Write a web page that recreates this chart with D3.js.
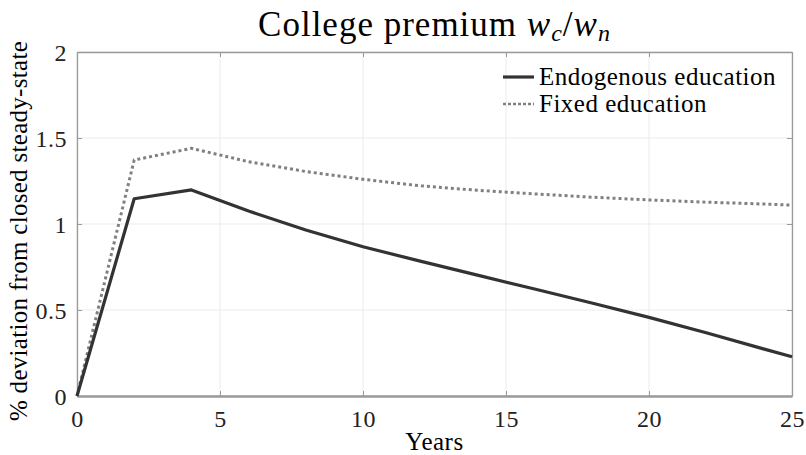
<!DOCTYPE html>
<html>
<head>
<meta charset="utf-8">
<script src="https://cdn.jsdelivr.net/npm/d3@7"></script>
<style>
  body { margin: 0; background: #fff; }
</style>
</head>
<body>
<div id="chart"></div>
<script>
// data
const years = [0, 2, 4, 6, 8, 10, 12, 14, 16, 18, 20, 22, 24, 25];
const endogenous = [0, 1.147, 1.198, 1.075, 0.965, 0.868, 0.784, 0.703, 0.622, 0.541, 0.457, 0.368, 0.274, 0.228];
const fixedEdu = [0, 1.372, 1.44, 1.362, 1.305, 1.26, 1.222, 1.196, 1.175, 1.156, 1.14, 1.127, 1.116, 1.11];
const xTicks = [0, 5, 10, 15, 20, 25];
const yTicks = [0, 0.5, 1, 1.5, 2];
const seriesNames = ["Endogenous education", "Fixed education"];

const serif = "'Liberation Serif', 'DejaVu Serif', serif";
const width = 806, height = 455;
const margin = { top: 52, right: 14, bottom: 59, left: 77 };
const w = width - margin.left - margin.right;
const h = height - margin.top - margin.bottom;

const svg = d3.select("#chart")
    .append("svg")
    .attr("width", width)
    .attr("height", height)
    .attr("font-family", serif);

const g = svg.append("g")
    .attr("transform", `translate(${margin.left},${margin.top})`);

const x = d3.scaleLinear().domain([0, 25]).range([0, w]);
const y = d3.scaleLinear().domain([0, 2]).range([h, 0]);

// grid
g.append("g").selectAll("line")
    .data(xTicks)
    .enter().append("line")
    .attr("x1", d => x(d)).attr("x2", d => x(d))
    .attr("y1", 0).attr("y2", h)
    .attr("stroke", "#ebebeb").attr("stroke-width", 1);
g.append("g").selectAll("line")
    .data(yTicks)
    .enter().append("line")
    .attr("y1", d => y(d)).attr("y2", d => y(d))
    .attr("x1", 0).attr("x2", w)
    .attr("stroke", "#ebebeb").attr("stroke-width", 1);

// axes, ticks pointing in
const tickCol = "#9a9a9a";
const xAxis = g.append("g")
    .attr("transform", `translate(0,${h})`)
    .call(d3.axisBottom(x).tickValues(xTicks).tickSizeInner(-5).tickSizeOuter(0).tickPadding(9).tickFormat(d3.format("d")));
const xTop = g.append("g")
    .call(d3.axisTop(x).tickValues(xTicks).tickSizeInner(-5).tickSizeOuter(0).tickFormat(""));
const yAxis = g.append("g")
    .call(d3.axisLeft(y).tickValues(yTicks).tickSizeInner(-5).tickSizeOuter(0).tickPadding(10).tickFormat(d => d));
const yRight = g.append("g")
    .attr("transform", `translate(${w},0)`)
    .call(d3.axisRight(y).tickValues(yTicks).tickSizeInner(-5).tickSizeOuter(0).tickFormat(""));

[xAxis, xTop, yAxis, yRight].forEach(a => {
    a.attr("font-family", serif).attr("font-size", 24);
    a.select(".domain").attr("stroke", tickCol).attr("stroke-width", 1.3);
    a.selectAll(".tick line").attr("stroke", tickCol);
    a.selectAll("text").attr("fill", "#222").attr("letter-spacing", 0.5);
});
xAxis.select(".domain").attr("stroke-width", 2.5);
xAxis.selectAll("text").attr("dy", "0.9em");
yAxis.selectAll("text").attr("dy", "0.36em");

// lines
const line = d3.line()
    .x((d, i) => x(years[i]))
    .y(d => y(d));

g.append("path")
    .datum(fixedEdu)
    .attr("d", line)
    .attr("fill", "none")
    .attr("stroke", "#808080")
    .attr("stroke-width", 3)
    .attr("stroke-dasharray", "3,3");

g.append("path")
    .datum(endogenous)
    .attr("d", line)
    .attr("fill", "none")
    .attr("stroke", "#333333")
    .attr("stroke-width", 3.2)
    .attr("stroke-linejoin", "round");

// legend
const legend = svg.append("g").attr("transform", "translate(503,77)");
const legStyles = [
    { stroke: "#333333", dash: null, sw: 3.2 },
    { stroke: "#808080", dash: "3,2", sw: 2.5 }
];
seriesNames.forEach((name, i) => {
    const row = legend.append("g").attr("transform", `translate(0,${i * 27})`);
    row.append("line")
        .attr("x1", 0).attr("x2", 31).attr("y1", 0).attr("y2", 0)
        .attr("stroke", legStyles[i].stroke)
        .attr("stroke-width", legStyles[i].sw)
        .attr("stroke-dasharray", legStyles[i].dash);
    row.append("text")
        .attr("x", 36).attr("y", 8)
        .attr("font-family", serif)
        .attr("font-size", 25)
        .attr("letter-spacing", 0.5)
        .text(name);
});

// title
const title = svg.append("text")
    .attr("x", margin.left + w / 2)
    .attr("y", 36)
    .attr("text-anchor", "middle")
    .attr("font-family", serif)
    .attr("font-size", 35)
    .attr("letter-spacing", 1);
title.append("tspan").text("College premium ");
title.append("tspan").attr("font-style", "italic").text("w");
title.append("tspan").attr("dy", 5).attr("font-style", "italic").attr("font-size", 24).text("c");
title.append("tspan").attr("dy", -5).text("/");
title.append("tspan").attr("font-style", "italic").text("w");
title.append("tspan").attr("dy", 5).attr("font-style", "italic").attr("font-size", 24).text("n");

// axis labels
svg.append("text")
    .attr("x", margin.left + w / 2)
    .attr("y", 450)
    .attr("text-anchor", "middle")
    .attr("font-family", serif)
    .attr("font-size", 25)
    .attr("letter-spacing", 0.5)
    .text("Years");

svg.append("text")
    .attr("transform", `translate(27,${margin.top + h / 2 + 7}) rotate(-90)`)
    .attr("text-anchor", "middle")
    .attr("font-family", serif)
    .attr("font-size", 25)
    .attr("letter-spacing", 0.3)
    .text("% deviation from closed steady-state");
</script>
</body>
</html>
